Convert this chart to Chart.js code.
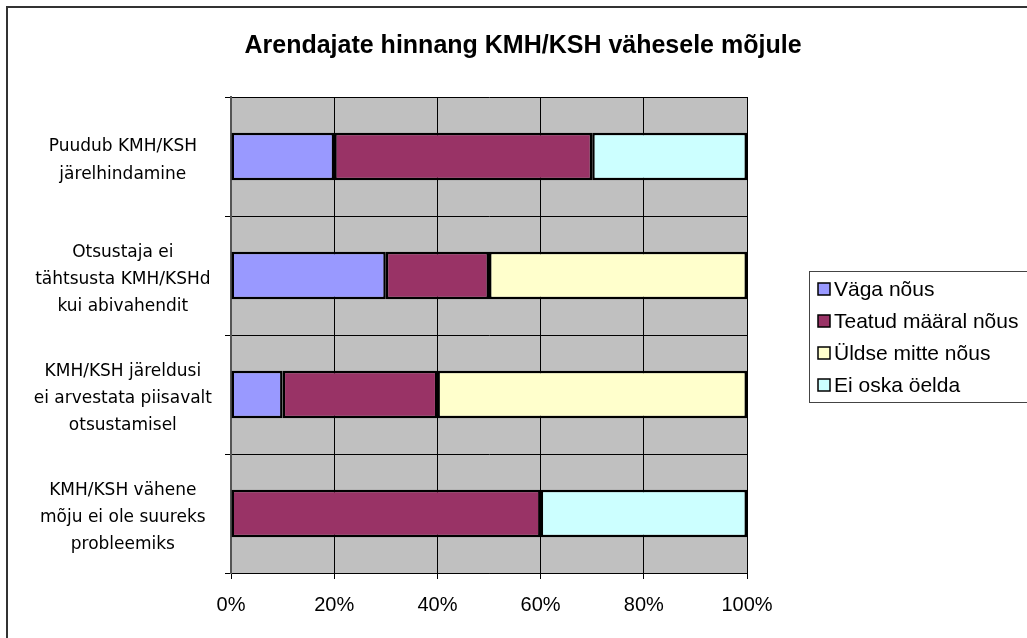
<!DOCTYPE html>
<html>
<head>
<meta charset="utf-8">
<script src="https://cdn.jsdelivr.net/npm/chart.js@4"></script>
<style>
  html, body { margin: 0; padding: 0; background: #fff; }
  #wrap { width: 1027px; height: 638px; }
</style>
</head>
<body>
<div id="wrap"><canvas id="c" width="1027" height="638"></canvas></div>
<script>
var categories = [
  ["Puudub KMH/KSH", "järelhindamine"],
  ["Otsustaja ei", "tähtsusta KMH/KSHd", "kui abivahendit"],
  ["KMH/KSH järeldusi", "ei arvestata piisavalt", "otsustamisel"],
  ["KMH/KSH vähene", "mõju ei ole suureks", "probleemiks"]
];
var seriesNames = ["Väga nõus", "Teatud määral nõus", "Üldse mitte nõus", "Ei oska öelda"];
var vagaNous = [20, 30, 10, 0];
var teatudNous = [50, 20, 30, 60];
var uldseMitte = [0, 50, 60, 0];
var eiOska = [30, 0, 0, 40];
var colors = ["#9999FF", "#993366", "#FFFFCC", "#CCFFFF"];
var xTicks = [0, 20, 40, 60, 80, 100];

var title = "Arendajate hinnang KMH/KSH vähesele mõjule";

var seriesValues = [vagaNous, teatudNous, uldseMitte, eiOska];
var datasets = seriesNames.map(function(name, i) {
  return {
    label: name,
    data: seriesValues[i],
    backgroundColor: colors[i],
    borderColor: "#000",
    borderWidth: 2.5,
    borderSkipped: false,
    barPercentage: 0.4,
    categoryPercentage: 1.0
  };
});

// gray plot area, outer frame, title and legend box
var excelLook = {
  id: "excelLook",
  beforeDraw: function(chart) {
    var ctx = chart.ctx, a = chart.chartArea;
    ctx.save();
    ctx.fillStyle = "#fff";
    ctx.fillRect(0, 0, chart.width, chart.height);
    ctx.fillStyle = "#C0C0C0";
    ctx.fillRect(a.left, a.top, a.right - a.left, a.bottom - a.top);
    ctx.restore();
  },
  afterDraw: function(chart) {
    var ctx = chart.ctx;
    ctx.save();
    // outer frame (right/bottom fall outside the picture)
    ctx.strokeStyle = "#333";
    ctx.lineWidth = 2;
    ctx.strokeRect(7, 7, 1060, 680);
    // title
    ctx.fillStyle = "#000";
    ctx.font = "bold 25px 'Liberation Sans', Arial, sans-serif";
    ctx.textAlign = "center";
    ctx.textBaseline = "middle";
    ctx.fillText(title, 523, 46);
    // legend
    var lx = 809, ly = 271, lh = 131;
    ctx.strokeStyle = "#444";
    ctx.lineWidth = 1;
    ctx.strokeRect(lx + 0.5, ly + 0.5, 260, lh);
    ctx.font = "21px 'Liberation Sans', Arial, sans-serif";
    ctx.textAlign = "left";
    chart.data.datasets.forEach(function(ds, i) {
      var y = ly + 18 + i * 32;
      ctx.fillStyle = ds.backgroundColor;
      ctx.fillRect(818, y - 6, 12, 12);
      ctx.strokeStyle = "#000";
      ctx.lineWidth = 1.5;
      ctx.strokeRect(818, y - 6, 12, 12);
      ctx.fillStyle = "#000";
      ctx.fillText(ds.label, 834, y + 1);
    });
    ctx.restore();
  }
};

new Chart(document.getElementById("c").getContext("2d"), {
  type: "bar",
  data: { labels: categories, datasets: datasets },
  options: {
    indexAxis: "y",
    responsive: false,
    animation: false,
    layout: { padding: { left: 0, top: 97, right: 280, bottom: 0 } },
    plugins: {
      legend: { display: false },
      title: { display: false },
      tooltip: { enabled: false }
    },
    scales: {
      x: {
        stacked: true,
        min: 0,
        max: 100,
        afterBuildTicks: function(scale) {
          scale.ticks = xTicks.map(function(v) { return { value: v }; });
        },
        afterFit: function(scale) { scale.height = 65; },
        grid: { color: "#000", lineWidth: 1, tickLength: 6, drawTicks: true },
        border: { color: "#000", width: 1 },
        ticks: {
          color: "#000",
          padding: 14,
          font: { family: "'Liberation Sans', Arial, sans-serif", size: 20 },
          callback: function(v) { return v + "%"; }
        }
      },
      y: {
        stacked: true,
        afterFit: function(scale) { scale.width = 231; },
        grid: { color: "#000", lineWidth: 1, tickLength: 6, offset: true },
        border: { color: "#555", width: 2 },
        ticks: {
          color: "#000",
          crossAlign: "center",
          padding: 13,
          labelOffset: 4,
          font: { family: "'DejaVu Sans', sans-serif", size: 17, lineHeight: 1.6 }
        }
      }
    }
  },
  plugins: [excelLook]
});
</script>
</body>
</html>
